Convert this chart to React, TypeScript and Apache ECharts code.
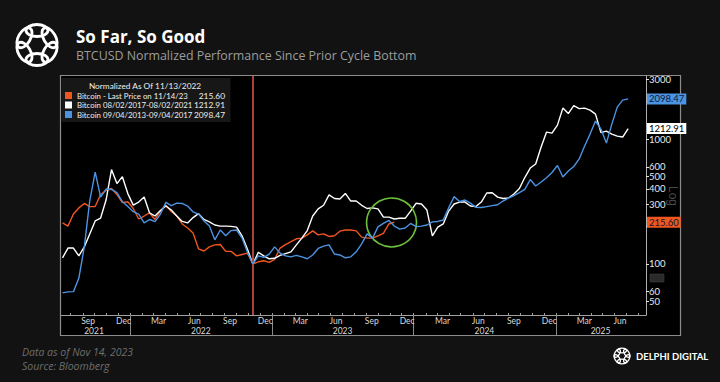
import React, { useEffect, useRef } from 'react';
import * as echarts from 'echarts';

const DAY = 86400000;
const SERIES_START = '2021-07-11';
const STEP_DAYS = 14;
const NORMALIZED_DATE = '2022-11-13';
const AXIS_MIN = '2021-07-07';
const AXIS_MAX = '2025-08-21';
const CIRCLE_DATE = '2023-11-05';
const CIRCLE_VALUE = 215;

const orangeValues = [
  213, 201, 251, 281, 305, 288, 288, 360, 388, 402,
  360, 310, 315, 278, 229, 242, 256, 227, 265, 295,
  263, 242, 209, 194, 177, 132, 127, 137, 142, 143,
  126, 126, 116, 119, 122, 100, 104, 106, 103, 109,
  134, 143, 151, 159, 161, 171, 184, 171, 174, 166,
  168, 183, 187, 187, 184, 164, 161, 161, 168, 176,
  209, 215.6,
];

const whiteValues = [
  112, 134, 134, 116, 137, 174, 221, 233, 325, 570,
  440, 500, 366, 296, 313, 343, 256, 242, 268, 291,
  270, 242, 219, 213, 235, 253, 227, 217, 205, 201,
  201, 200, 197, 168, 131, 100, 124, 116, 110, 111,
  117, 121, 125, 142, 161, 185, 242, 276, 295, 357,
  334, 331, 367, 319, 319, 295, 278, 281, 276, 237,
  237, 229, 232, 232, 265, 306, 302, 270, 168, 197,
  209, 265, 302, 313, 313, 291, 288, 313, 370, 372,
  343, 334, 337, 363, 402, 492, 586, 631, 863, 1138,
  1117, 1294, 1770, 1600, 1850, 1752, 1770, 1706, 1585, 1127,
  1158, 1096, 1057, 1038, 1212.91,
];

const blueValues = [
  58.6, 59.7, 60, 77, 137, 320, 544, 343, 398, 395,
  373, 316, 288, 262, 251, 213, 227, 218, 251, 311,
  293, 307, 305, 291, 261, 251, 221, 201, 156, 187,
  168, 185, 187, 161, 124, 100, 116, 113, 120, 137,
  122, 116, 114, 117, 114, 110, 118, 133, 139, 142,
  120, 118, 112, 114, 125, 145, 174, 161, 198, 211,
  223, 201, 190, 194, 211, 199, 201, 205, 217, 219,
  225, 281, 346, 316, 325, 307, 284, 283, 288, 293,
  298, 319, 337, 353, 372, 395, 474, 421, 453, 490,
  540, 614, 497, 555, 603, 693, 880, 1096, 1393, 1203,
  929, 1318, 1803, 2051, 2098.47,
];

const seriesNames = [
  'Bitcoin - Last Price on 11/14/23',
  'Bitcoin 08/02/2017-08/02/2021',
  'Bitcoin 09/04/2013-09/04/2017',
];
const lastValueLabels = ['215.60', '1212.91', '2098.47'];
const lastValues = [215.6, 1212.91, 2098.47];
const seriesColors = ['#f0561f', '#ffffff', '#4b93e3'];

const yTickValues = [50, 60, 100, 200, 300, 400, 500, 600, 1000, 2000, 3000];
const yLabelValues = [50, 60, 100, 300, 400, 500, 600, 1000, 3000];

const monthLabelDates = [
  '2021-09-15', '2021-12-15', '2022-03-15', '2022-06-15', '2022-09-15', '2022-12-15',
  '2023-03-15', '2023-06-15', '2023-09-15', '2023-12-15', '2024-03-15', '2024-06-15',
  '2024-09-15', '2024-12-15', '2025-03-15', '2025-06-15',
];
const monthNames = ['Jan', 'Feb', 'Mar', 'Apr', 'May', 'Jun', 'Jul', 'Aug', 'Sep', 'Oct', 'Nov', 'Dec'];

const yearLabelDates = ['2021-09-30', '2022-07-02', '2023-07-02', '2024-07-01', '2025-04-26'];
const yearLabels = ['2021', '2022', '2023', '2024', '2025'];
const yearBoundaryDates = ['2022-01-01', '2023-01-01', '2024-01-01', '2025-01-01'];

const FONT = "'Lato', 'Liberation Sans', sans-serif";
const TITLE_FONT = "'Open Sans', 'Noto Sans', sans-serif";

function toPairs(values: number[]) {
  const start = Date.parse(SERIES_START);
  return values.map((v, i) => [start + i * STEP_DAYS * DAY, v]);
}

function logoRing(cx: number, cy: number, r: number, rx: number, ry: number, lw: number) {
  const children: any[] = [];
  for (let k = 0; k < 6; k++) {
    children.push({
      type: 'group',
      x: cx,
      y: cy,
      rotation: (k * Math.PI) / 3,
      children: [
        {
          type: 'ellipse',
          shape: { cx: 0, cy: -r, rx, ry },
          style: { fill: 'none', stroke: '#ffffff', lineWidth: lw },
        },
      ],
    });
  }
  return children;
}

export default function App() {
  const ref = useRef<HTMLDivElement>(null);

  useEffect(() => {
    if (!ref.current) return;
    const chart = echarts.init(ref.current, null, { renderer: 'svg' });

    const monthTicks: number[] = [];
    for (let i = 0; i < 49; i++) monthTicks.push(Date.UTC(2021, 7 + i, 1));

    const valuesList = [orangeValues, whiteValues, blueValues];
    const yearLabelTs = yearLabelDates.map((d) => Date.parse(d));

    const series: any[] = valuesList.map((vals, idx) => {
      const markData: any[] = [];
      if (idx === 0) {
        markData.push({
          xAxis: Date.parse(NORMALIZED_DATE),
          lineStyle: { color: '#a9433a', width: 2, type: 'solid' },
          label: { show: false },
        });
      }
      markData.push({
        yAxis: lastValues[idx],
        lineStyle: { color: 'rgba(0,0,0,0)', width: 1, type: 'solid' },
        label: {
          show: true,
          position: 'end',
          formatter: lastValueLabels[idx],
          backgroundColor: seriesColors[idx],
          color: idx === 1 ? '#000000' : '#0b1a33',
          fontFamily: FONT,
          fontSize: 9.5,
          padding: [1, 2, 0, 2],
          distance: 1,
        },
      });
      const s: any = {
        name: seriesNames[idx],
        type: 'line',
        data: toPairs(vals),
        showSymbol: false,
        symbol: 'none',
        lineStyle: { color: seriesColors[idx], width: 1.4 },
        itemStyle: { color: seriesColors[idx] },
        z: 3 + idx,
        markLine: {
          silent: true,
          symbol: ['none', 'none'],
          animation: false,
          data: markData,
        },
      };
      if (idx === 0) {
        s.markPoint = {
          silent: true,
          animation: false,
          symbol: 'circle',
          symbolSize: [50, 49],
          itemStyle: { color: 'rgba(0,0,0,0)', borderColor: '#6fbf3e', borderWidth: 1.6 },
          label: { show: false },
          data: [{ coord: [Date.parse(CIRCLE_DATE), CIRCLE_VALUE] }],
        };
      }
      return s;
    });

    const option: any = {
      animation: false,
      backgroundColor: '#121212',
      grid: { left: 61, right: 74, top: 76, bottom: 67, containLabel: false },
      legend: {
        orient: 'vertical',
        left: 65,
        top: 91,
        itemWidth: 7,
        itemHeight: 7,
        itemGap: 0.5,
        icon: 'rect',
        selectedMode: false,
        padding: 0,
        data: seriesNames,
        formatter: (name: string) => `{n|${name}}{v|${lastValueLabels[seriesNames.indexOf(name)]}}`,
        textStyle: {
          color: '#eeeeee',
          fontFamily: FONT,
          fontSize: 7.8,
          lineHeight: 9,
          rich: {
            n: { width: 121, fontFamily: FONT, fontSize: 7.8, color: '#eeeeee', lineHeight: 9 },
            v: { width: 27, align: 'right', fontFamily: FONT, fontSize: 8.4, color: '#eeeeee', lineHeight: 9 },
          },
        },
      },
      xAxis: [
        {
          type: 'value',
          min: Date.parse(AXIS_MIN),
          max: Date.parse(AXIS_MAX),
          axisLine: { show: true, lineStyle: { color: '#a0a0a0', width: 1 } },
          axisTick: {
            show: true,
            inside: true,
            length: 2,
            customValues: monthTicks,
            lineStyle: { color: '#a0a0a0' },
          },
          axisLabel: {
            show: true,
            customValues: monthLabelDates.map((d) => Date.parse(d)),
            formatter: (v: number) => monthNames[new Date(v).getUTCMonth()],
            color: '#d8d8d8',
            fontFamily: FONT,
            fontSize: 8.5,
            lineHeight: 8,
            margin: 2,
          },
          splitLine: { show: false },
        },
        {
          type: 'value',
          position: 'bottom',
          min: Date.parse(AXIS_MIN),
          max: Date.parse(AXIS_MAX),
          axisLine: { show: false },
          axisTick: {
            show: true,
            inside: false,
            length: 20,
            customValues: yearBoundaryDates.map((d) => Date.parse(d)),
            lineStyle: { color: '#8a8a8a' },
          },
          axisLabel: {
            show: true,
            customValues: yearLabelTs,
            formatter: (v: number) => {
              const i = yearLabelTs.indexOf(v);
              return i >= 0 ? yearLabels[i] : '';
            },
            color: '#d8d8d8',
            fontFamily: FONT,
            fontSize: 8.5,
            lineHeight: 8,
            margin: 11.5,
          },
          splitLine: { show: false },
        },
      ],
      yAxis: {
        type: 'log',
        logBase: 10,
        position: 'right',
        min: 39,
        max: 3200,
        axisLine: { show: true, lineStyle: { color: '#b0b0b0', width: 1 } },
        axisTick: { show: true, length: 3, customValues: yTickValues, lineStyle: { color: '#e0e0e0' } },
        axisLabel: {
          show: true,
          customValues: yLabelValues,
          formatter: (v: number) => String(Math.round(v)),
          color: '#e8e8e8',
          fontFamily: FONT,
          fontSize: 9.5,
          lineHeight: 8,
          margin: 3,
        },
        splitLine: { show: false },
      },
      graphic: [
        {
          type: 'rect',
          z: -10,
          shape: { x: 60.5, y: 75.5, width: 620, height: 260 },
          style: { fill: '#000000', stroke: '#8c8c8c', lineWidth: 1.2 },
        },
        {
          type: 'rect',
          z: -9,
          shape: { x: 61.5, y: 78, width: 169, height: 44 },
          style: { fill: '#171717' },
        },
        {
          type: 'text',
          z: 5,
          x: 145,
          y: 86,
          style: {
            text: 'Normalized As Of 11/13/2022',
            fill: '#eeeeee',
            fontFamily: FONT,
            fontSize: 8.3,
            textAlign: 'center',
            textVerticalAlign: 'middle',
          },
        },
        {
          type: 'text',
          x: 673,
          y: 196,
          rotation: -Math.PI / 2,
          style: {
            text: 'Log',
            fill: '#4a4a4a',
            fontFamily: "'Liberation Sans', sans-serif",
            fontSize: 12,
            textAlign: 'center',
            textVerticalAlign: 'middle',
          },
        },
        {
          type: 'rect',
          shape: { x: 650, y: 274, width: 14, height: 8 },
          style: { fill: '#2a2a2a', stroke: '#444', lineWidth: 0.5 },
        },
        ...logoRing(37, 45, 14.5, 11, 6, 2.8),
        {
          type: 'text',
          x: 76,
          y: 36,
          style: {
            text: 'So Far, So Good',
            fill: '#ffffff',
            fontFamily: TITLE_FONT,
            fontWeight: 'bold',
            fontSize: 17,
            textVerticalAlign: 'middle',
          },
        },
        {
          type: 'text',
          x: 76,
          y: 55,
          style: {
            text: 'BTCUSD Normalized Performance Since Prior Cycle Bottom',
            fill: '#9c9c9c',
            fontFamily: TITLE_FONT,
            fontSize: 12.4,
            textVerticalAlign: 'middle',
          },
        },
        {
          type: 'text',
          x: 22,
          y: 352,
          style: {
            text: 'Data as of Nov 14, 2023',
            fill: '#6e6e6e',
            fontFamily: TITLE_FONT,
            fontStyle: 'italic',
            fontSize: 10.5,
            textVerticalAlign: 'middle',
          },
        },
        {
          type: 'text',
          x: 22,
          y: 366,
          style: {
            text: 'Source: Bloomberg',
            fill: '#6e6e6e',
            fontFamily: TITLE_FONT,
            fontStyle: 'italic',
            fontSize: 10.5,
            textVerticalAlign: 'middle',
          },
        },
        ...logoRing(622, 356, 5.5, 4.5, 2.3, 1.3),
        {
          type: 'text',
          x: 636,
          y: 356,
          style: {
            text: 'DELPHI DIGITAL',
            fill: '#ffffff',
            fontFamily: "'Lato', sans-serif",
            fontWeight: 'bold',
            fontSize: 9.5,
            textVerticalAlign: 'middle',
          },
        },
      ],
      series,
    };

    chart.setOption(option);
    return () => chart.dispose();
  }, []);

  return (
    <div
      ref={ref}
      style={{ position: 'fixed', left: 0, top: 0, width: 720, height: 382 }}
    />
  );
}
